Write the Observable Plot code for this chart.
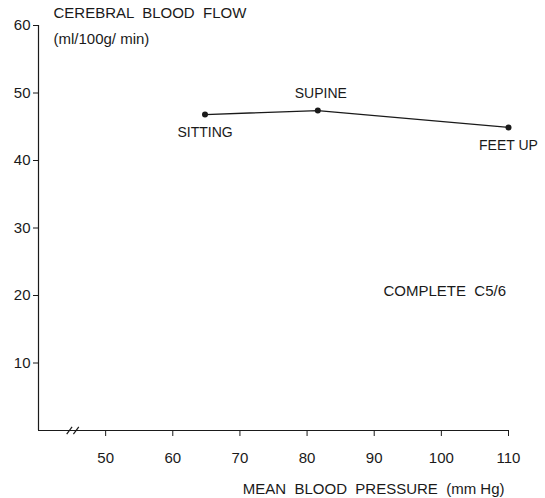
<!DOCTYPE html>
<html>
<head>
<meta charset="utf-8">
<script src="https://cdn.jsdelivr.net/npm/d3@7"></script>
<script src="https://cdn.jsdelivr.net/npm/@observablehq/plot@0.6"></script>
<style>
  html, body { margin: 0; padding: 0; background: #fff; }
</style>
</head>
<body>
<div id="chart"></div>
<script>
// Data
const positions = ["SITTING", "SUPINE", "FEET UP"];
const meanBP = [64.8, 81.6, 110];       // mm Hg
const cbf = [46.8, 47.4, 44.9];         // ml/100g/min
const labelSide = ["below", "above", "below"];

const xTicks = [50, 60, 70, 80, 90, 100, 110];
const yTicks = [10, 20, 30, 40, 50, 60];
const xDomain = [40, 110];
const yDomain = [0, 60];
const axisBreak = [44.6, 45.6];

const yTitle = ["CEREBRAL  BLOOD  FLOW", "(ml/100g/ min)"];
const xTitle = "MEAN\u00a0\u00a0BLOOD\u00a0\u00a0PRESSURE\u00a0\u00a0(mm\u00a0Hg)";
const note = {x: 100.5, y: 20.6, text: "COMPLETE\u00a0\u00a0C5/6"};

const data = positions.map((p, i) => ({label: p, x: meanBP[i], y: cbf[i], side: labelSide[i]}));

const ink = "#1a1a1a";
const chart = Plot.plot({
  width: 545,
  height: 498,
  marginLeft: 38,
  marginRight: 37,
  marginTop: 25,
  marginBottom: 68,
  style: {fontFamily: "'Liberation Sans', Arial, sans-serif", background: "#fff", color: ink},
  x: {domain: xDomain},
  y: {domain: yDomain},
  marks: [
    Plot.axisY({ticks: yTicks, tickSize: 5, tickPadding: 3, fontSize: 15, label: null, stroke: ink}),
    Plot.axisX({ticks: xTicks, tickSize: 6, tickPadding: 16, fontSize: 15, label: null, stroke: ink}),
    Plot.ruleY([yDomain[0]], {x1: xDomain[0], x2: xDomain[1], stroke: ink, strokeWidth: 1.2}),
    Plot.ruleX([xDomain[0]], {y1: yDomain[0], y2: yDomain[1], stroke: ink, strokeWidth: 1.2}),
    Plot.link(axisBreak, {x1: d => d - 0.4, x2: d => d + 0.4, y1: -0.55, y2: 0.55, stroke: ink, strokeWidth: 1.2}),
    Plot.line(data, {x: "x", y: "y", stroke: ink, strokeWidth: 1.3}),
    Plot.dot(data, {x: "x", y: "y", r: 3, fill: ink, stroke: null}),
    Plot.text(data.filter(d => d.side === "below"), {x: "x", y: "y", text: "label", dy: 18, fontSize: 14, fill: ink}),
    Plot.text(data.filter(d => d.side === "above"), {x: "x", y: "y", text: "label", dy: -17.5, dx: 3, fontSize: 14, fill: ink}),
    Plot.text([yTitle[0]], {x: xDomain[0], y: yDomain[1], text: d => d, textAnchor: "start", dx: 15, dy: -12.5, fontSize: 15, fill: ink}),
    Plot.text([yTitle[1]], {x: xDomain[0], y: yDomain[1], text: d => d, textAnchor: "start", dx: 15, dy: 14, fontSize: 15, fill: ink}),
    Plot.text([xTitle], {x: xDomain[1], y: yDomain[0], text: d => d, textAnchor: "end", dx: -4, dy: 59, fontSize: 15, fill: ink}),
    Plot.text([note], {x: "x", y: "y", text: "text", fontSize: 15, fill: ink})
  ]
});
document.getElementById("chart").appendChild(chart);
</script>
</body>
</html>
